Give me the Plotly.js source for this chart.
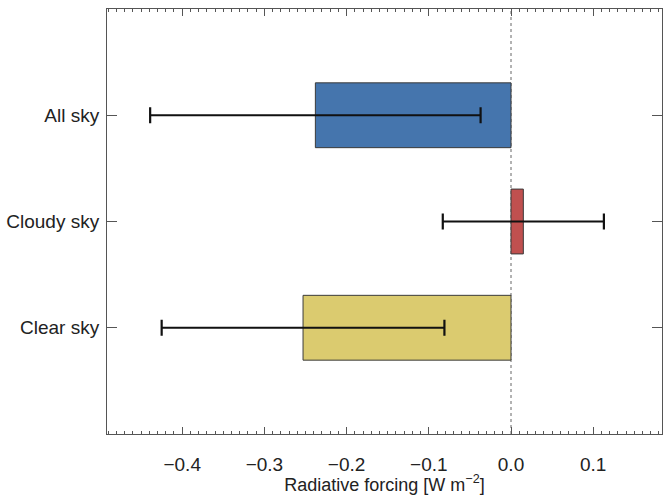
<!DOCTYPE html>
<html>
<head>
<meta charset="utf-8">
<script src="https://cdn.plot.ly/plotly-3.0.1.min.js"></script>
<style>html,body{margin:0;padding:0;background:#fff}#chart{width:669px;height:495px}</style>
</head>
<body>
<div id="chart"></div>
<script>
// Data
const categories = ["All sky", "Cloudy sky", "Clear sky"];
const forcing = [-0.238, 0.015, -0.253];
const uncertainty = [0.201, 0.098, 0.172];
const barColors = ["#4575ad", "#c0504f", "#dbcb6f"];
const xTickValues = [-0.4, -0.3, -0.2, -0.1, 0.0, 0.1];
const xTickLabels = ["\u22120.4", "\u22120.3", "\u22120.2", "\u22120.1", "0.0", "0.1"];

const FONT = "'Liberation Sans', Arial, sans-serif";

const trace = {
  type: "bar",
  orientation: "h",
  y: categories,
  x: forcing,
  width: 0.61,
  marker: { color: barColors, line: { color: "#3a3a3a", width: 1 } },
  error_x: {
    type: "data",
    array: uncertainty,
    symmetric: true,
    color: "#111111",
    thickness: 2.2,
    width: 8
  },
  hoverinfo: "x+y"
};

const layout = {
  width: 669,
  height: 495,
  margin: { l: 107, r: 7, t: 9, b: 61 },
  paper_bgcolor: "#ffffff",
  plot_bgcolor: "#ffffff",
  showlegend: false,
  font: { family: FONT, color: "#222222", size: 19 },
  xaxis: {
    range: [-0.4915, 0.1837],
    tickvals: xTickValues,
    ticktext: xTickLabels,
    ticks: "inside",
    ticklen: 7,
    tickwidth: 1,
    tickcolor: "#555555",
    showline: true,
    linecolor: "#555555",
    linewidth: 1,
    mirror: "allticks",
    showgrid: false,
    zeroline: false,
    ticklabelstandoff: 13,
    tickfont: { family: FONT, size: 19, color: "#222222" },
    minor: { dtick: 0.01, tick0: 0, ticks: "inside", ticklen: 3, tickcolor: "#555555", showgrid: false },
    title: { text: "Radiative forcing [W m<sup>\u22122</sup>]", font: { family: FONT, size: 18, color: "#222222" }, standoff: 4 }
  },
  yaxis: {
    type: "category",
    categoryorder: "array",
    categoryarray: ["Clear sky", "Cloudy sky", "All sky"],
    range: [-1, 3],
    ticks: "inside",
    ticklen: 10,
    tickwidth: 1,
    tickcolor: "#555555",
    showline: true,
    linecolor: "#555555",
    linewidth: 1,
    mirror: "allticks",
    showgrid: false,
    zeroline: false,
    ticklabelstandoff: 3,
    tickfont: { family: FONT, size: 19, color: "#222222" }
  },
  shapes: [{
    type: "line",
    xref: "x", yref: "paper",
    x0: 0, x1: 0, y0: 0, y1: 1,
    line: { color: "#666666", width: 1, dash: "dot" },
    layer: "below"
  }]
};

Plotly.newPlot("chart", [trace], layout, { displayModeBar: false, staticPlot: true });
</script>
</body>
</html>
